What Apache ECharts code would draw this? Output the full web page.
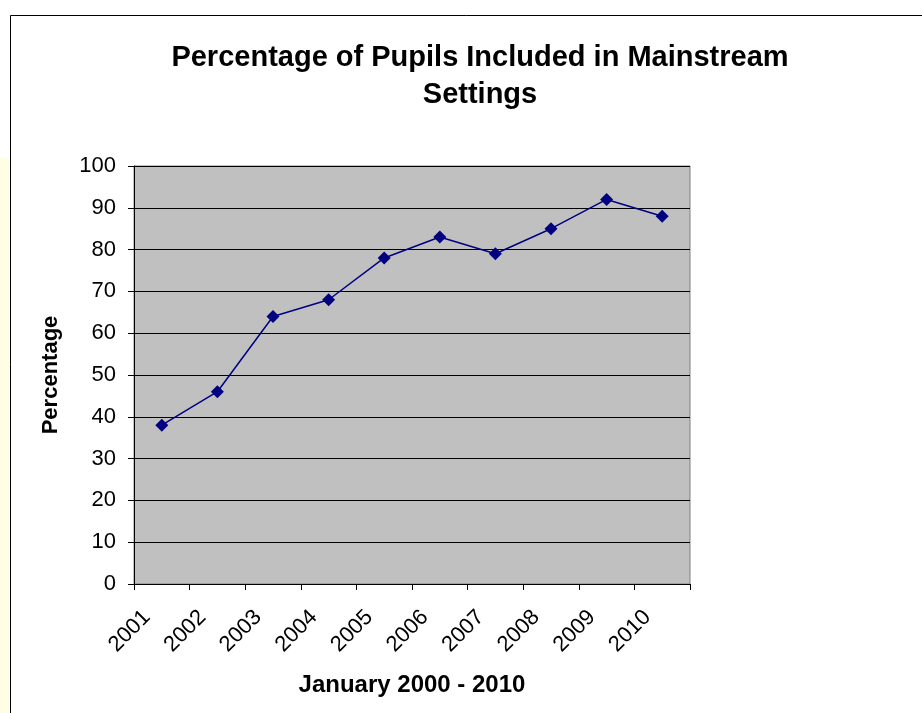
<!DOCTYPE html>
<html>
<head>
<meta charset="utf-8">
<script src="https://cdn.jsdelivr.net/npm/echarts@6/dist/echarts.min.js"></script>
<style>
html,body{margin:0;padding:0;background:#fff;}
#chart{width:922px;height:713px;}
</style>
</head>
<body>
<div id="chart"></div>
<script>
var titleText = 'Percentage of Pupils Included in Mainstream\nSettings';
var xAxisName = 'January 2000 - 2010';
var yAxisName = 'Percentage';
var years = ['2001','2002','2003','2004','2005','2006','2007','2008','2009','2010'];
var percentages = [38, 46, 64, 68, 78, 83, 79, 85, 92, 88];

var chart = echarts.init(document.getElementById('chart'));
chart.setOption({
  backgroundColor: '#ffffff',
  animation: false,
  graphic: [
    { type: 'rect', z: -10, shape: { x: 0, y: 158, width: 9, height: 560 }, style: { fill: '#FFFDE3' } },
    { type: 'rect', z: -5, shape: { x: 10.5, y: 15.5, width: 930, height: 720 }, style: { fill: 'none', stroke: '#000', lineWidth: 1 } }
  ],
  title: {
    text: titleText,
    left: 475,
    textAlign: 'center',
    top: 34,
    textStyle: { fontFamily: 'Liberation Sans, Arial', fontWeight: 'bold', fontSize: 29, color: '#000', lineHeight: 37 }
  },
  grid: {
    left: 134, right: 232, top: 166, bottom: 129,
    show: true, backgroundColor: '#C0C0C0', borderColor: '#808080', borderWidth: 1
  },
  xAxis: {
    type: 'category',
    data: years,
    boundaryGap: true,
    name: xAxisName,
    nameLocation: 'middle',
    nameGap: 89,
    nameTextStyle: { fontFamily: 'Liberation Sans, Arial', fontWeight: 'bold', fontSize: 24, color: '#000' },
    axisLine: { lineStyle: { color: '#000', width: 1 } },
    axisTick: { show: true, length: 6, alignWithLabel: false, lineStyle: { color: '#000' } },
    axisLabel: { rotate: 45, margin: 15, padding: [0, 21, 0, 0], fontFamily: 'Liberation Sans, Arial', fontSize: 22, color: '#000' },
    splitLine: { show: false }
  },
  yAxis: {
    type: 'value',
    min: 0, max: 100, interval: 10,
    name: yAxisName,
    nameLocation: 'middle',
    nameGap: 72,
    nameTextStyle: { fontFamily: 'Liberation Sans, Arial', fontWeight: 'bold', fontSize: 22, color: '#000' },
    axisLine: { show: true, lineStyle: { color: '#000', width: 1 } },
    axisTick: { show: true, length: 6, lineStyle: { color: '#000' } },
    axisLabel: { margin: 18, fontFamily: 'Liberation Sans, Arial', fontSize: 22, color: '#000' },
    splitLine: { show: true, lineStyle: { color: '#000', width: 1 } }
  },
  series: [{
    type: 'line',
    data: percentages,
    symbol: 'diamond',
    symbolSize: 13,
    lineStyle: { color: '#000080', width: 1.5 },
    itemStyle: { color: '#000080' }
  }]
});
</script>
</body>
</html>
